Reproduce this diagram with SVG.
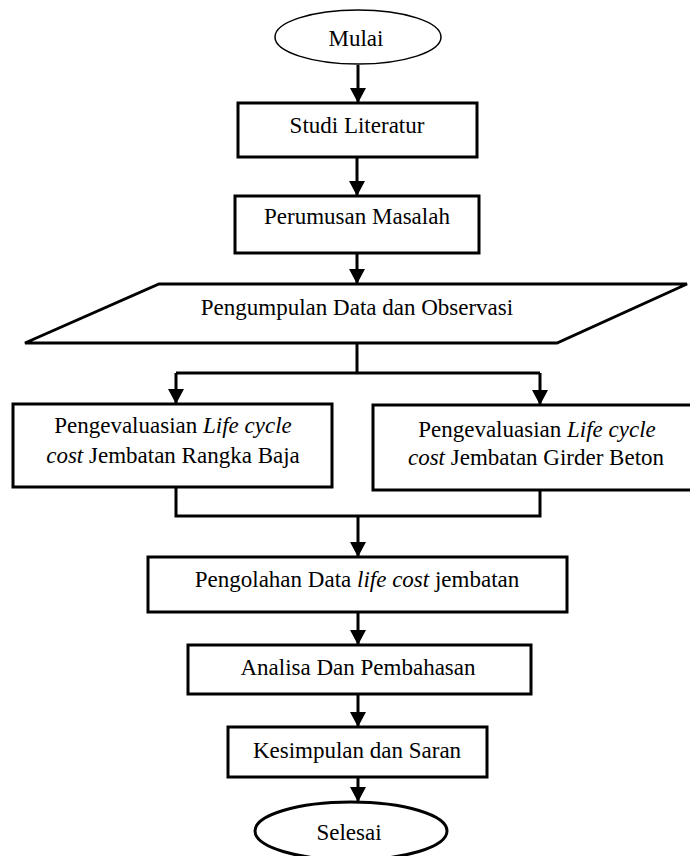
<svg xmlns="http://www.w3.org/2000/svg" width="690" height="856" viewBox="0 0 690 856">
<style>
  .box { fill: #fff; stroke: #000; stroke-width: 3; }
  .term { fill: #fff; stroke: #000; stroke-width: 1.5; }
  .term2 { fill: #fff; stroke: #000; stroke-width: 3; }
  .lbl { font-family: "Liberation Serif", "Times New Roman", serif; font-size: 23px; fill: #000; text-anchor: middle; }
  .it { font-style: italic; }
  .conn path { fill: none; stroke: #000; stroke-width: 3; }
</style>
<defs>
  <marker id="arr" viewBox="0 0 15 16" refX="15" refY="8" markerWidth="15" markerHeight="16" markerUnits="userSpaceOnUse" orient="auto">
    <path d="M0,0 L15,8 L0,16 z" fill="#000"/>
  </marker>
</defs>
<rect width="690" height="856" fill="#fff"/>

<g id="connectors" class="conn">
  <path d="M358 65 V103" marker-end="url(#arr)"/>
  <path d="M357 157 V196" marker-end="url(#arr)"/>
  <path d="M357 253 V284" marker-end="url(#arr)"/>
  <path d="M357 343 V373"/>
  <path d="M176 373 H540"/>
  <path d="M176 373 V404" marker-end="url(#arr)"/>
  <path d="M540 373 V405" marker-end="url(#arr)"/>
  <path d="M176 487 V516 H540 V490"/>
  <path d="M358 516 V557" marker-end="url(#arr)"/>
  <path d="M358 612 V645" marker-end="url(#arr)"/>
  <path d="M358 694 V727" marker-end="url(#arr)"/>
  <path d="M358 777 V802" marker-end="url(#arr)"/>
</g>

<g id="mulai">
  <ellipse class="term" cx="358" cy="37" rx="83" ry="27"/>
  <text class="lbl" x="356" y="46">Mulai</text>
</g>

<g id="studi-literatur">
  <rect class="box" x="238" y="103" width="239" height="54"/>
  <text class="lbl" x="357" y="133">Studi Literatur</text>
</g>

<g id="perumusan-masalah">
  <rect class="box" x="235" y="196" width="244" height="57"/>
  <text class="lbl" x="357" y="224">Perumusan Masalah</text>
</g>

<g id="pengumpulan-data">
  <polygon class="box" points="159,284 687,284 557,343 25,343"/>
  <text class="lbl" x="357" y="315">Pengumpulan Data dan Observasi</text>
</g>

<g id="lcc-rangka-baja">
  <rect class="box" x="13" y="404" width="319" height="83"/>
  <text class="lbl" x="173" y="433">Pengevaluasian <tspan class="it">Life cycle</tspan></text>
  <text class="lbl" x="173" y="463"><tspan class="it">cost</tspan> Jembatan Rangka Baja</text>
</g>

<g id="lcc-girder-beton">
  <rect class="box" x="373" y="405" width="330" height="85"/>
  <text class="lbl" x="537" y="437">Pengevaluasian <tspan class="it">Life cycle</tspan></text>
  <text class="lbl" x="536" y="465"><tspan class="it">cost</tspan> Jembatan Girder Beton</text>
</g>

<g id="pengolahan-data">
  <rect class="box" x="148" y="557" width="419" height="55"/>
  <text class="lbl" x="357" y="587">Pengolahan Data <tspan class="it">life cost</tspan> jembatan</text>
</g>

<g id="analisa">
  <rect class="box" x="188" y="645" width="343" height="49"/>
  <text class="lbl" x="358" y="675">Analisa Dan Pembahasan</text>
</g>

<g id="kesimpulan">
  <rect class="box" x="228" y="727" width="259" height="50"/>
  <text class="lbl" x="357" y="758">Kesimpulan dan Saran</text>
</g>

<g id="selesai">
  <ellipse class="term2" cx="351" cy="831" rx="96" ry="29"/>
  <text class="lbl" x="349" y="840">Selesai</text>
</g>
</svg>
